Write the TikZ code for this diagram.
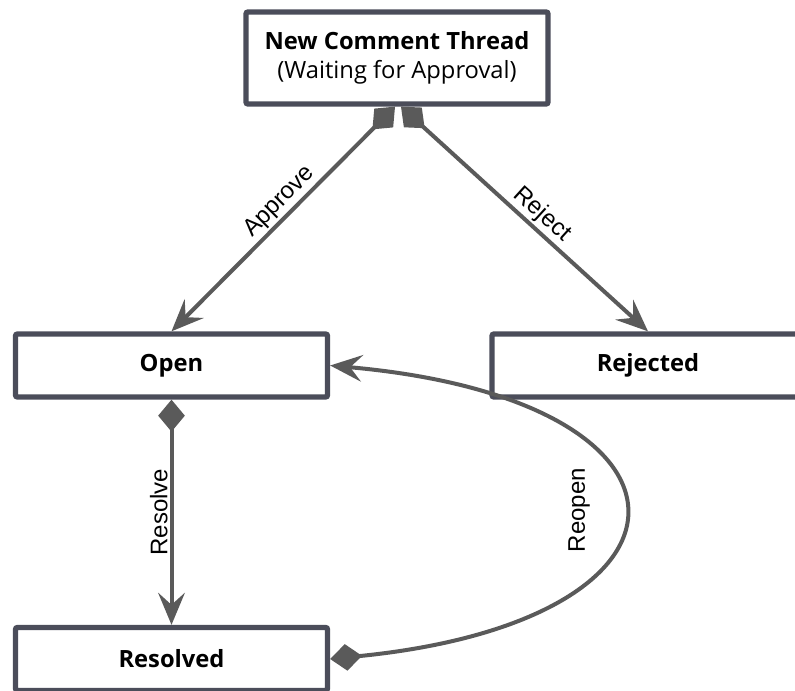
\documentclass[tikz,border=0pt]{standalone}
\usepackage{fontspec}
\setmainfont{Liberation Sans}
\newfontfamily\boxfont{Open Sans}
\usetikzlibrary{arrows.meta,calc}
\definecolor{boxc}{HTML}{4B4D5A}
\definecolor{arrc}{HTML}{5A5A5A}
\tikzset{
  statebox/.style={draw=boxc, line width=4pt, fill=white, rounded corners=1.5pt,
    font=\boxfont\fontsize{17.8pt}{21.5pt}\selectfont, align=center, inner sep=0pt},
  conn/.style={draw=arrc, line width=3pt,
    -{Stealth[length=24pt, width=20pt, inset=9pt]}},
  dconn/.style={draw=arrc, line width=3pt,
    {Diamond[length=24pt, width=20pt]}-{Stealth[length=24pt, width=20pt, inset=9pt]}},
  lbl/.style={font=\fontsize{18pt}{20pt}\selectfont, inner sep=1.5pt}
}
\begin{document}
\begin{tikzpicture}[x=0.75pt,y=-0.75pt]
\useasboundingbox (0,0) rectangle (795,691);
\node[statebox, minimum width=226.5pt, minimum height=69pt] (top) at (397,58)
  {\textbf{New Comment Thread}\\(Waiting for Approval)};
\node[statebox, minimum width=234pt, minimum height=47.25pt] (open) at (171.5,365.5) {\textbf{Open}};
\node[statebox, minimum width=234pt, minimum height=47.25pt] (rej) at (648,365.5) {\textbf{Rejected}};
\node[statebox, minimum width=234pt, minimum height=47.25pt] (res) at (171.5,659) {\textbf{Resolved}};
\coordinate (ta) at ($(top.south)+(-2,0)$);
\coordinate (tr) at ($(top.south)+(4,0)$);
\path[dconn] (ta) -- node[lbl, sloped, above, pos=0.47] {Approve} (open.north);
\path[dconn] (tr) -- node[lbl, sloped, above, pos=0.53] {Reject} (rej.north);
\path[dconn] (open.south) -- node[lbl, rotate=90, anchor=south] {Resolve} (res.north);
\path[dconn] (res.east) .. controls (720,620) and (720,400) .. (open.east);
\node[lbl, rotate=90] (reo) at (579,510) {Reopen};
\end{tikzpicture}
\end{document}
